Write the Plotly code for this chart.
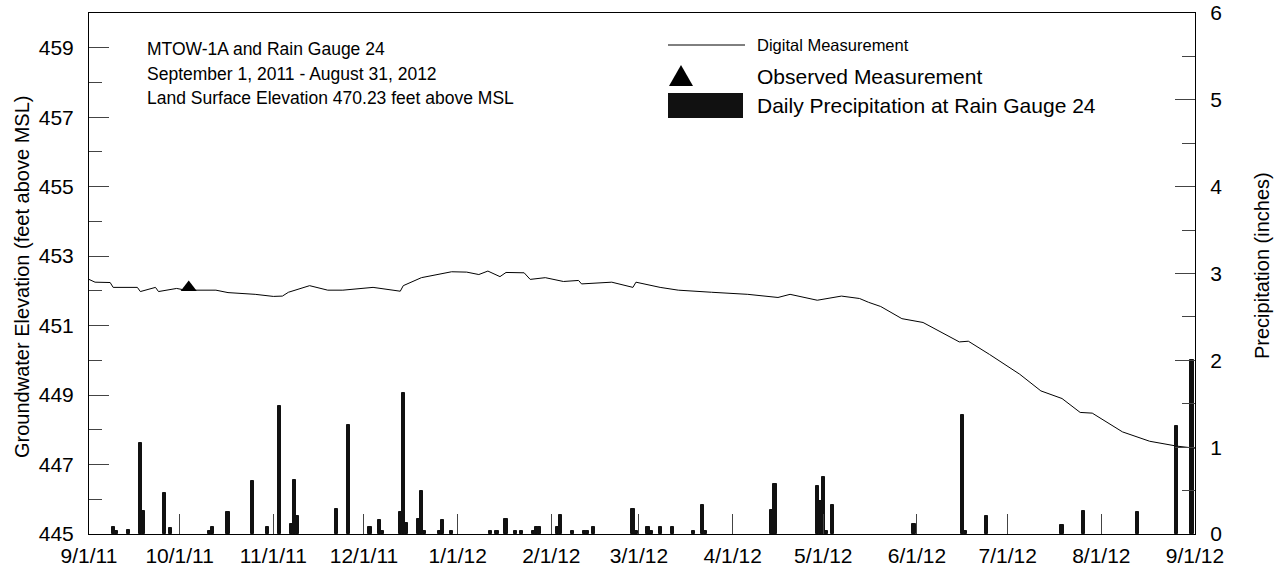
import plotly.graph_objects as go

# ---------------- data ----------------
gw_dates = ["2011-09-01", "2011-09-03", "2011-09-08", "2011-09-09", "2011-09-17", "2011-09-18",
            "2011-09-23", "2011-09-24", "2011-09-30", "2011-10-03", "2011-10-13", "2011-10-17",
            "2011-10-26", "2011-11-01", "2011-11-04", "2011-11-06", "2011-11-13", "2011-11-19",
            "2011-11-24", "2011-12-04", "2011-12-13", "2011-12-14", "2011-12-20", "2011-12-30",
            "2012-01-04", "2012-01-08", "2012-01-11", "2012-01-15", "2012-01-17", "2012-01-23",
            "2012-01-25", "2012-01-30", "2012-02-05", "2012-02-10", "2012-02-11", "2012-02-21",
            "2012-02-28", "2012-02-29", "2012-03-08", "2012-03-14", "2012-03-25", "2012-04-06",
            "2012-04-16", "2012-04-20", "2012-04-29", "2012-05-07", "2012-05-13", "2012-05-16",
            "2012-05-20", "2012-05-27", "2012-06-03", "2012-06-15", "2012-06-18", "2012-06-25",
            "2012-07-05", "2012-07-12", "2012-07-19", "2012-07-25", "2012-07-29", "2012-08-08",
            "2012-08-17", "2012-08-26", "2012-09-01"]
gw_values = [452.33, 452.25, 452.24, 452.10, 452.10, 451.98,
             452.10, 451.98, 452.07, 452.02, 452.02, 451.95,
             451.90, 451.84, 451.85, 451.96, 452.15, 452.02,
             452.02, 452.10, 451.99, 452.15, 452.38, 452.55,
             452.54, 452.47, 452.57, 452.41, 452.53, 452.52,
             452.33, 452.38, 452.27, 452.30, 452.20, 452.25,
             452.10, 452.25, 452.10, 452.02, 451.96, 451.90,
             451.81, 451.90, 451.73, 451.85, 451.78, 451.67,
             451.55, 451.20, 451.09, 450.53, 450.55, 450.17,
             449.60, 449.12, 448.90, 448.50, 448.48, 447.94,
             447.67, 447.53, 447.47]

obs_dates = ["2011-10-04"]
obs_values = [452.10]

precip_dates = ["2011-09-09", "2011-09-10", "2011-09-14", "2011-09-18", "2011-09-19", "2011-09-26",
                "2011-09-28", "2011-10-11", "2011-10-12", "2011-10-17", "2011-10-25", "2011-10-30",
                "2011-11-03", "2011-11-07", "2011-11-08", "2011-11-09", "2011-11-22", "2011-11-26",
                "2011-12-03", "2011-12-06", "2011-12-07", "2011-12-13", "2011-12-14", "2011-12-15",
                "2011-12-19", "2011-12-20", "2011-12-21", "2011-12-26", "2011-12-27", "2011-12-30",
                "2012-01-12", "2012-01-14", "2012-01-17", "2012-01-20", "2012-01-22", "2012-01-26",
                "2012-01-27", "2012-01-28", "2012-02-03", "2012-02-04", "2012-02-08", "2012-02-12",
                "2012-02-13", "2012-02-15", "2012-02-28", "2012-02-29", "2012-03-04", "2012-03-05",
                "2012-03-08", "2012-03-12", "2012-03-19", "2012-03-22", "2012-03-23", "2012-04-14",
                "2012-04-15", "2012-04-29", "2012-04-30", "2012-05-01", "2012-05-02", "2012-05-04",
                "2012-05-31", "2012-06-16", "2012-06-17", "2012-06-24", "2012-07-19", "2012-07-26",
                "2012-08-13", "2012-08-26", "2012-08-31"]
precip_values = [0.08, 0.04, 0.05, 1.05, 0.27, 0.47,
                 0.07, 0.04, 0.08, 0.25, 0.61, 0.08,
                 1.47, 0.12, 0.62, 0.21, 0.29, 1.25,
                 0.08, 0.16, 0.04, 0.25, 1.62, 0.13,
                 0.17, 0.50, 0.04, 0.04, 0.16, 0.04,
                 0.04, 0.04, 0.17, 0.04, 0.04, 0.04,
                 0.08, 0.08, 0.08, 0.22, 0.04, 0.04,
                 0.04, 0.08, 0.29, 0.04, 0.08, 0.04,
                 0.08, 0.08, 0.04, 0.33, 0.04, 0.28,
                 0.58, 0.55, 0.38, 0.66, 0.04, 0.33,
                 0.12, 1.37, 0.04, 0.21, 0.10, 0.27,
                 0.25, 1.24, 2.00]

x_tickvals = ["2011-09-01", "2011-10-01", "2011-11-01", "2011-12-01", "2012-01-01", "2012-02-01",
              "2012-03-01", "2012-04-01", "2012-05-01", "2012-06-01", "2012-07-01", "2012-08-01",
              "2012-09-01"]
x_ticktext = ["9/1/11", "10/1/11", "11/1/11", "12/1/11", "1/1/12", "2/1/12", "3/1/12",
              "4/1/12", "5/1/12", "6/1/12", "7/1/12", "8/1/12", "9/1/12"]

title_lines = ["MTOW-1A and Rain Gauge 24",
               "September 1, 2011 - August 31, 2012",
               "Land Surface Elevation 470.23 feet above MSL"]
legend_labels = ["Digital Measurement", "Observed Measurement",
                 "Daily Precipitation at Rain Gauge 24"]

# ---------------- geometry ----------------
W, H = 1283, 573
L, R, T, B = 89, 1195, 13, 534
FONT = "Arial, Liberation Sans, sans-serif"


def px(x):
    return (x - L) / (R - L)


def py(y):
    return (B - y) / (B - T)


fig = go.Figure()

fig.add_trace(go.Bar(
    x=precip_dates, y=precip_values, yaxis="y2",
    width=86400000 * 1.05,
    marker=dict(color="#111111", line=dict(color="#111111", width=1)),
    showlegend=False, hoverinfo="x+y"))

fig.add_trace(go.Scatter(
    x=gw_dates, y=gw_values, mode="lines",
    line=dict(color="black", width=1), showlegend=False))

fig.add_trace(go.Scatter(
    x=obs_dates, y=obs_values, mode="markers",
    marker=dict(symbol="triangle-up", size=14, color="black"),
    showlegend=False))

tickfont = dict(family=FONT, size=21, color="black")

fig.update_layout(
    template="none",
    width=W, height=H,
    margin=dict(l=L, r=W - R, t=T, b=H - B, autoexpand=False),
    paper_bgcolor="white", plot_bgcolor="white",
    bargap=0,
    xaxis=dict(
        type="date", range=["2011-09-01", "2012-09-01"], automargin=False,
        tickvals=x_tickvals, ticktext=x_ticktext,
        ticks="inside", ticklen=20, tickwidth=1, tickcolor="#444",
        showline=True, linecolor="black", linewidth=1, mirror=True,
        showgrid=False, zeroline=False, tickfont=tickfont,
        ticklabelstandoff=3),
    yaxis=dict(
        range=[445, 460], tick0=445, dtick=2, automargin=False,
        ticks="inside", ticklen=20, tickwidth=1, tickcolor="#444",
        minor=dict(dtick=1, ticks="inside", ticklen=13, tickcolor="#444", tickwidth=1,
                   showgrid=False),
        showline=True, linecolor="black", linewidth=1,
        showgrid=False, zeroline=False, tickfont=tickfont,
        ticklabelstandoff=10),
    yaxis2=dict(
        range=[0, 6], tick0=0, dtick=1, overlaying="y", side="right", automargin=False,
        ticks="inside", ticklen=20, tickwidth=1, tickcolor="#444",
        minor=dict(dtick=0.5, ticks="inside", ticklen=13, tickcolor="#444", tickwidth=1,
                   showgrid=False),
        showline=True, linecolor="black", linewidth=1,
        showgrid=False, zeroline=False, tickfont=tickfont,
        ticklabelstandoff=10),
)

annotations = []
# axis titles
annotations.append(dict(x=px(22), y=py(277), xref="paper", yref="paper",
                        xanchor="center", yanchor="middle",
                        text="Groundwater Elevation (feet above MSL)", textangle=-90,
                        showarrow=False, font=dict(family=FONT, size=20, color="black")))
annotations.append(dict(x=px(1262), y=py(266), xref="paper", yref="paper",
                        xanchor="center", yanchor="middle",
                        text="Precipitation (inches)", textangle=-90,
                        showarrow=False, font=dict(family=FONT, size=20, color="black")))
# info text
for t, yy in zip(title_lines, [49, 74, 98]):
    annotations.append(dict(x=px(145), y=py(yy), xref="paper", yref="paper",
                            text=t, xanchor="left", yanchor="middle", showarrow=False,
                            font=dict(family=FONT, size=17.5, color="black")))
# legend text
for t, yy, sz in zip(legend_labels, [45, 76, 105], [16.5, 21, 21]):
    annotations.append(dict(x=px(755), y=py(yy), xref="paper", yref="paper",
                            text=t, xanchor="left", yanchor="middle", showarrow=False,
                            font=dict(family=FONT, size=sz, color="black")))
fig.update_layout(annotations=annotations)

shapes = [
    dict(type="line", xref="paper", yref="paper", x0=px(668), x1=px(745), y0=py(45), y1=py(45),
         line=dict(color="black", width=1)),
    dict(type="path", xref="paper", yref="paper",
         path=f"M {px(669)} {py(86)} L {px(693)} {py(86)} L {px(681)} {py(65)} Z",
         fillcolor="black", line=dict(color="black", width=0)),
    dict(type="rect", xref="paper", yref="paper", x0=px(668), x1=px(743), y0=py(118), y1=py(93),
         fillcolor="#111111", line=dict(color="#111111", width=0)),
]
fig.update_layout(shapes=shapes)

fig.write_html("out.html")
